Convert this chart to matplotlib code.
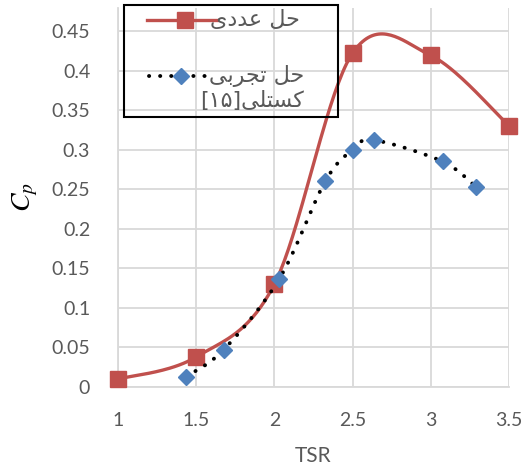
import numpy as np
import matplotlib
matplotlib.use("Agg")
import matplotlib.pyplot as plt
from matplotlib.lines import Line2D
from matplotlib.patches import Rectangle

# numerical solution (red)
tsr_num = [1.0, 1.5, 2.0, 2.5, 3.0, 3.5]
cp_num = [0.010, 0.038, 0.130, 0.422, 0.419, 0.330]

# experimental (blue)
tsr_exp = [1.434, 1.675, 2.032, 2.325, 2.502, 2.637, 3.075, 3.288]
cp_exp = [0.013, 0.047, 0.137, 0.260, 0.300, 0.312, 0.285, 0.253]

# legend labels, pre-shaped arabic presentation forms in visual order
lbl_num = "\uFEEF\uFEA9\uFEAA\uFECB \uFEDE\uFEA3"
lbl_exp = ["\uFEF0\uFE91\uFEAE\uFEA0\uFE97 \uFEDE\uFEA3",
           "[\u06F1\u06F5]\uFEF0\uFEE0\uFE98\uFEB4\uFB90"]

xticks = [1, 1.5, 2, 2.5, 3, 3.5]
yticks = [0, 0.05, 0.1, 0.15, 0.2, 0.25, 0.3, 0.35, 0.4, 0.45]

grey = "#595959"
red = "#C0504D"
blue = "#4F81BD"
W, H = 531, 471


def smooth(xs, ys, n=40):
    # excel like smoothing (cardinal bezier, tension 1/6)
    p = np.column_stack([xs, ys])
    out = [p[0]]
    for i in range(len(p) - 1):
        p0 = p[i - 1] if i > 0 else p[i]
        p3 = p[i + 2] if i + 2 < len(p) else p[i + 1]
        c1 = p[i] + (p[i + 1] - p0) / 6
        c2 = p[i + 1] - (p3 - p[i]) / 6
        t = np.linspace(0, 1, n)[1:, None]
        seg = ((1 - t) ** 3 * p[i] + 3 * (1 - t) ** 2 * t * c1
               + 3 * (1 - t) * t ** 2 * c2 + t ** 3 * p[i + 1])
        out.extend(seg)
    out = np.array(out)
    return out[:, 0], out[:, 1]


def fx(px):
    return px / W


def fy(py):
    return 1 - py / H


plt.rcParams['font.family'] = ['Lato', 'DejaVu Sans']
plt.rcParams['mathtext.fontset'] = 'stix'

fig = plt.figure(figsize=(5.31, 4.71), dpi=100)
ax = fig.add_axes([fx(118), fy(387), 391 / W, 379 / H])

sx, sy = smooth(tsr_num, cp_num)
ax.plot(sx, sy, color=red, lw=2.4, zorder=3, clip_on=False)
ax.plot(tsr_num, cp_num, ls='none', marker='s', ms=11, color=red, zorder=4, clip_on=False)

dots = (0, (0.05, 2.8))
ex, ey = smooth(tsr_exp, cp_exp)
ax.plot(ex, ey, color='black', lw=2.8, ls=dots, dash_capstyle='round', zorder=5)
ax.plot(tsr_exp, cp_exp, ls='none', marker='D', ms=8.5, color=blue, zorder=6, clip_on=False)

ax.set_xlim(1, 3.5)
ax.set_ylim(0, 0.479)
ax.set_xticks(xticks)
ax.set_xticklabels([f"{v:g}" for v in xticks])
ax.set_yticks(yticks)
ax.set_yticklabels([f"{v:g}" for v in yticks])
ax.grid(True, color="#D9D9D9", lw=1.3)
ax.set_axisbelow(True)
for s in ['top', 'right']:
    ax.spines[s].set_visible(False)
for s in ['left', 'bottom']:
    ax.spines[s].set_color("#D9D9D9")
    ax.spines[s].set_linewidth(1.3)
ax.tick_params(length=0, labelsize=14, labelcolor=grey)
ax.tick_params(axis='x', pad=18)
ax.tick_params(axis='y', pad=20)

ax.set_xlabel("TSR", fontsize=15, color=grey, labelpad=12)
ax.set_ylabel(r"$C_p$", fontsize=20, color='black', labelpad=8)

# legend box drawn by hand (text right aligned, handle on first line)
fig.patches.append(Rectangle((fx(124), fy(117)), 214 / W, 112 / H, transform=fig.transFigure,
                             fill=False, edgecolor='black', lw=1.5, zorder=10))
fig.add_artist(Line2D([fx(147), fx(217)], [fy(20), fy(20)], color=red, lw=2.4, zorder=11))
fig.add_artist(Line2D([fx(185)], [fy(20)], ls='none', marker='s', ms=11, color=red, zorder=12))
fig.add_artist(Line2D([fx(149), fx(215)], [fy(76), fy(76)], color='black', lw=2.8, ls=dots,
                      dash_capstyle='round', zorder=11))
fig.add_artist(Line2D([fx(181)], [fy(76)], ls='none', marker='D', ms=8.5, color=blue, zorder=12))
tp = dict(family='DejaVu Sans', fontsize=16, color=grey, ha='right', va='center', zorder=12)
fig.text(fx(300), fy(20), lbl_num, **tp)
fig.text(fx(304), fy(76), lbl_exp[0], **tp)
fig.text(fx(304), fy(101), lbl_exp[1], **tp)

fig.savefig("out.png", dpi=100)
